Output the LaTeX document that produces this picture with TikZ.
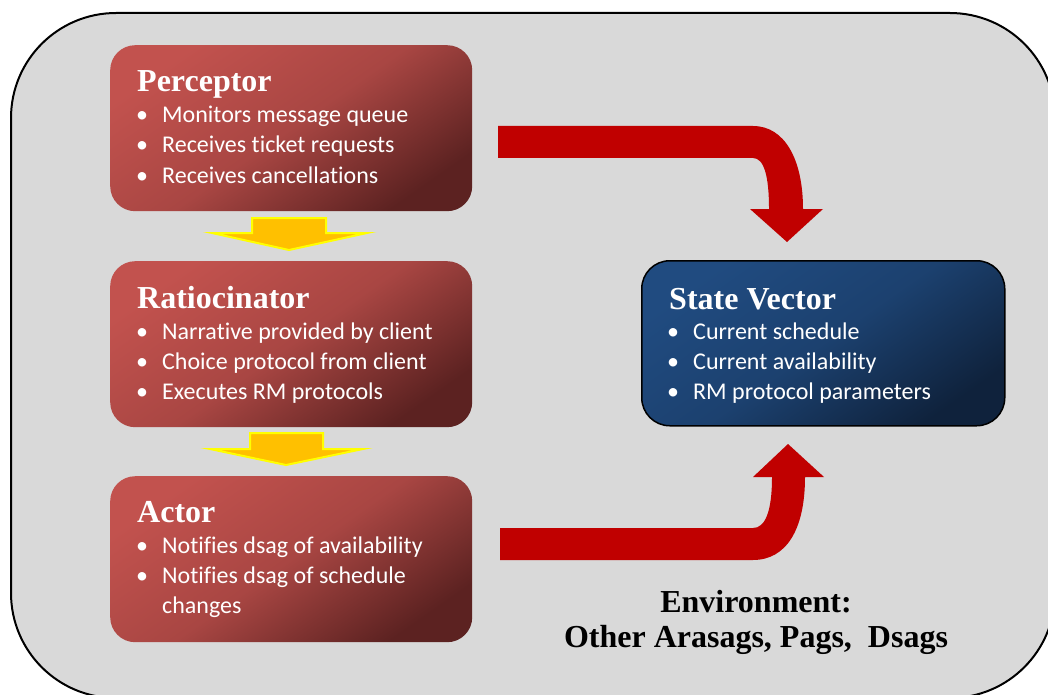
\documentclass[tikz,border=0pt]{standalone}
\usepackage{fontspec}
\setmainfont{Liberation Serif}
\newfontfamily\bulletfont[Ligatures={NoCommon,NoRare,NoContextual}]{Carlito}
\usetikzlibrary{calc}

\definecolor{envgray}{RGB}{217,217,217}
\definecolor{redlight}{RGB}{194,82,78}
\definecolor{reddark}{RGB}{92,34,33}
\definecolor{bluelight}{RGB}{32,75,128}
\definecolor{bluedark}{RGB}{15,34,60}
\definecolor{flowred}{RGB}{192,0,0}
\definecolor{amber}{RGB}{255,192,0}
\definecolor{amberedge}{RGB}{255,255,0}

\tikzset{
  envbox/.style={draw=black, line width=2pt, fill=envgray, rounded corners=105pt},
  agentbox/.style={rectangle, anchor=north west, inner sep=0pt,
    minimum width=362pt, minimum height=166pt, rounded corners=25pt,
    top color=redlight, bottom color=reddark, middle color=redlight!75!reddark,
    shading angle=35},
  statebox/.style={rectangle, anchor=north west, inner sep=0pt, draw=black, line width=1.5pt,
    minimum width=363pt, minimum height=165pt, rounded corners=28pt,
    top color=bluelight, bottom color=bluedark, middle color=bluelight!75!bluedark,
    shading angle=35},
  boxtitle/.style={anchor=base west, inner sep=0pt, text=white,
    font=\fontsize{32}{36}\selectfont\bfseries},
  bulletmark/.style={anchor=base, inner sep=0pt, text=white,
    font=\bulletfont\fontsize{24}{29}\selectfont},
  itemtext/.style={anchor=base west, inner sep=0pt, text=white,
    font=\bulletfont\fontsize{24}{29}\selectfont},
  envtext/.style={anchor=base, inner sep=0pt, text=black,
    font=\fontsize{32}{36}\selectfont\bfseries},
  passarrow/.style={fill=amber, draw=amberedge, line width=2pt, line join=miter},
  flowarrow/.style={fill=flowred, draw=none},
}

\begin{document}
\begin{tikzpicture}[x=1pt, y=-1pt]
\useasboundingbox (0,0) rectangle (1048,695);

% environment
\draw[envbox] (11,13) rectangle (1055,698);

% agent components
\node[agentbox] (perceptor) at (110,45) {};
\node[agentbox] (ratio) at (110,261) {};
\node[agentbox] (actor) at (110,476) {};
\node[statebox] (state) at (641,260) {};

% Perceptor text
\node[boxtitle] (pt) at ($(perceptor.north west)+(27,47)$) {Perceptor};
\node[bulletmark] (pb1) at ($(perceptor.north west)+(32,78)$) {•};
\node[itemtext] (pi1) at ($(perceptor.north west)+(52,78)$) {Monitors message queue};
\node[bulletmark] (pb2) at ($(perceptor.north west)+(32,108)$) {•};
\node[itemtext] (pi2) at ($(perceptor.north west)+(52,108)$) {Receives ticket requests};
\node[bulletmark] (pb3) at ($(perceptor.north west)+(32,138)$) {•};
\node[itemtext] (pi3) at ($(perceptor.north west)+(52,138)$) {Receives cancellations};

% Ratiocinator text
\node[boxtitle] (rt) at ($(ratio.north west)+(27,47)$) {Ratiocinator};
\node[bulletmark] (rb1) at ($(ratio.north west)+(32,78)$) {•};
\node[itemtext] (ri1) at ($(ratio.north west)+(52,78)$) {Narrative provided by client};
\node[bulletmark] (rb2) at ($(ratio.north west)+(32,108)$) {•};
\node[itemtext] (ri2) at ($(ratio.north west)+(52,108)$) {Choice protocol from client};
\node[bulletmark] (rb3) at ($(ratio.north west)+(32,138)$) {•};
\node[itemtext] (ri3) at ($(ratio.north west)+(52,138)$) {Executes RM protocols};

% Actor text
\node[boxtitle] (at) at ($(actor.north west)+(27,46)$) {Actor};
\node[bulletmark] (ab1) at ($(actor.north west)+(32,77)$) {•};
\node[itemtext] (ai1) at ($(actor.north west)+(52,77)$) {Notifies dsag of availability};
\node[bulletmark] (ab2) at ($(actor.north west)+(32,107)$) {•};
\node[itemtext] (ai2) at ($(actor.north west)+(52,107)$) {Notifies dsag of schedule};
\node[itemtext] (ai3) at ($(actor.north west)+(52,137)$) {changes};

% State Vector text
\node[boxtitle] (st) at ($(state.north west)+(28,49)$) {State Vector};
\node[bulletmark] (sb1) at ($(state.north west)+(32,79)$) {•};
\node[itemtext] (si1) at ($(state.north west)+(52,79)$) {Current schedule};
\node[bulletmark] (sb2) at ($(state.north west)+(32,109)$) {•};
\node[itemtext] (si2) at ($(state.north west)+(52,109)$) {Current availability};
\node[bulletmark] (sb3) at ($(state.north west)+(32,139)$) {•};
\node[itemtext] (si3) at ($(state.north west)+(52,139)$) {RM protocol parameters};

% hand-over arrows between components
\coordinate (p1) at (289,218);
\draw[passarrow] ($(p1)+(-37,0)$) -- ($(p1)+(37,0)$) -- ($(p1)+(37,15)$) -- ($(p1)+(78,15)$)
  -- ($(p1)+(0,32)$) -- ($(p1)+(-77,15)$) -- ($(p1)+(-37,15)$) -- cycle;
\coordinate (p2) at (286,433);
\draw[passarrow] ($(p2)+(-36,0)$) -- ($(p2)+(37,0)$) -- ($(p2)+(37,16)$) -- ($(p2)+(77,16)$)
  -- ($(p2)+(0,32)$) -- ($(p2)+(-76,16)$) -- ($(p2)+(-36,16)$) -- cycle;

% perceptor updates the state vector
\fill[flowarrow] (498,126) -- (753,126)
  .. controls (785,126) and (803,160) .. (803,209)
  -- (823,209) -- (787,242) -- (750,209) -- (769,209)
  .. controls (769,176) and (764,158) .. (753,158)
  -- (498,158) -- cycle;

% actor reads the state vector
\fill[flowarrow] (500,528) -- (753,528)
  .. controls (765,528) and (772,512) .. (772,477)
  -- (753,477) -- (788,444) -- (824,477) -- (805,477)
  .. controls (805,530) and (786,560) .. (753,560)
  -- (500,560) -- cycle;

% environment caption
\node[envtext] (env1) at (756,612) {Environment:};
\node[envtext] (env2) at (756,647) {Other Arasags, Pags,\ \ Dsags};
\end{tikzpicture}
\end{document}
